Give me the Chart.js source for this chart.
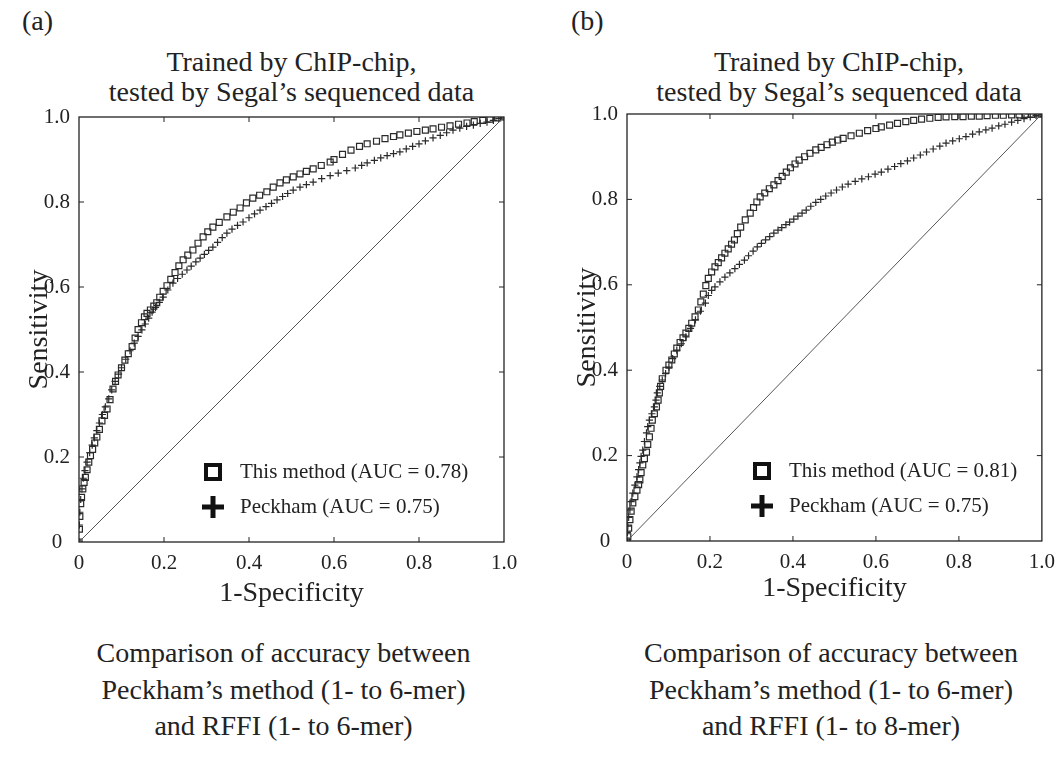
<!DOCTYPE html>
<html>
<head>
<meta charset="utf-8">
<script src="https://cdn.jsdelivr.net/npm/chart.js@4.4.1/dist/chart.umd.min.js"></script>
<style>
	body {margin: 0; background: #fff;}
	#page {position: relative; width: 1064px; height: 758px; overflow: hidden; font-family: "Liberation Serif", "Times New Roman", serif; color: #222;}
	.txt {position: absolute; text-align: center; white-space: nowrap;}
	.tag {position: absolute; font-size: 28px;}
	.head {font-size: 28px; line-height: 30px;}
	.foot {font-size: 28px; line-height: 36.5px;}
	canvas {position: absolute; top: 0;}
</style>
</head>
<body>
<div id="page">
	<div class="tag" style="left:22px; top:5px;">(a)</div>
	<div class="tag" style="left:571px; top:5px;">(b)</div>

	<div class="txt head" style="left:79px; width:425px; top:47px;">Trained by ChIP-chip,<br>tested by Segal’s sequenced data</div>
	<div class="txt head" style="left:627px; width:424px; top:47px;">Trained by ChIP-chip,<br>tested by Segal’s sequenced data</div>

	<div class="txt foot" style="left:71px; width:425px; top:635px;">Comparison of accuracy between<br>Peckham’s method (1- to 6-mer)<br>and RFFI (1- to 6-mer)</div>
	<div class="txt foot" style="left:619px; width:424px; top:635px;">Comparison of accuracy between<br>Peckham’s method (1- to 6-mer)<br>and RFFI (1- to 8-mer)</div>

	<canvas id="chart-a" width="532" height="640" style="left:0px;"></canvas>
	<canvas id="chart-b" width="516" height="640" style="left:548px;"></canvas>
</div>

<script>
// axis ticks, shared by both panels
var tickValues = [0, 0.2, 0.4, 0.6, 0.8, 1.0];
var tickLabels = ['0', '0.2', '0.4', '0.6', '0.8', '1.0'];
var diagonal = [0, 1];

// (a) this method, AUC 0.78
var aThisFpr = [0, 0.001, 0.002, 0.004, 0.006, 0.009, 0.012, 0.015, 0.019, 0.023, 0.027, 0.032, 0.037, 0.042, 0.048, 0.054, 0.06, 0.066, 0.073, 0.08, 0.086, 0.092, 0.1, 0.108, 0.116, 0.125, 0.132, 0.139, 0.147, 0.154, 0.16, 0.168, 0.176, 0.183, 0.19, 0.198, 0.207, 0.216, 0.226, 0.235, 0.245, 0.256, 0.268, 0.28, 0.292, 0.303, 0.315, 0.33, 0.348, 0.363, 0.379, 0.394, 0.409, 0.425, 0.442, 0.457, 0.473, 0.488, 0.504, 0.52, 0.535, 0.551, 0.57, 0.591, 0.6, 0.62, 0.64, 0.66, 0.678, 0.7, 0.72, 0.74, 0.755, 0.775, 0.795, 0.815, 0.833, 0.853, 0.873, 0.893, 0.913, 0.93, 0.95, 0.967, 0.985, 1.0];
var aThisTpr = [0, 0.03, 0.06, 0.09, 0.105, 0.125, 0.14, 0.152, 0.17, 0.188, 0.203, 0.218, 0.233, 0.247, 0.265, 0.285, 0.298, 0.313, 0.335, 0.36, 0.378, 0.393, 0.41, 0.428, 0.443, 0.46, 0.48, 0.5, 0.516, 0.53, 0.538, 0.546, 0.555, 0.563, 0.576, 0.59, 0.603, 0.618, 0.634, 0.65, 0.664, 0.675, 0.687, 0.703, 0.718, 0.73, 0.741, 0.752, 0.765, 0.776, 0.786, 0.798, 0.809, 0.816, 0.824, 0.835, 0.845, 0.852, 0.859, 0.866, 0.872, 0.878, 0.886, 0.894, 0.9, 0.912, 0.922, 0.931, 0.937, 0.943, 0.949, 0.954, 0.958, 0.962, 0.966, 0.969, 0.972, 0.976, 0.979, 0.983, 0.986, 0.989, 0.992, 0.995, 0.998, 1.0];

// (a) Peckham, AUC 0.75
var aPeckFpr = [0, 0.001, 0.002, 0.004, 0.007, 0.01, 0.014, 0.019, 0.025, 0.031, 0.036, 0.042, 0.048, 0.055, 0.062, 0.07, 0.077, 0.085, 0.093, 0.1, 0.11, 0.12, 0.13, 0.139, 0.148, 0.156, 0.164, 0.172, 0.18, 0.189, 0.198, 0.209, 0.221, 0.232, 0.243, 0.254, 0.264, 0.275, 0.285, 0.295, 0.305, 0.315, 0.326, 0.337, 0.348, 0.36, 0.373, 0.386, 0.4, 0.413, 0.426, 0.44, 0.453, 0.466, 0.479, 0.491, 0.504, 0.52, 0.535, 0.551, 0.571, 0.591, 0.61, 0.63, 0.65, 0.665, 0.678, 0.695, 0.71, 0.725, 0.74, 0.755, 0.77, 0.785, 0.8, 0.815, 0.833, 0.85, 0.865, 0.88, 0.896, 0.912, 0.928, 0.944, 0.96, 0.975, 0.988, 1.0];
var aPeckTpr = [0, 0.04, 0.07, 0.1, 0.125, 0.15, 0.168, 0.188, 0.21, 0.228, 0.245, 0.262, 0.28, 0.3, 0.318, 0.337, 0.358, 0.378, 0.395, 0.41, 0.43, 0.45, 0.468, 0.484, 0.499, 0.513, 0.527, 0.541, 0.552, 0.564, 0.576, 0.593, 0.609, 0.62, 0.63, 0.64, 0.649, 0.659, 0.668, 0.677, 0.686, 0.694, 0.705, 0.716, 0.727, 0.736, 0.745, 0.753, 0.763, 0.772, 0.781, 0.789, 0.797, 0.805, 0.813, 0.82, 0.828, 0.835, 0.841, 0.847, 0.855, 0.862, 0.868, 0.874, 0.88, 0.886, 0.892, 0.898, 0.904, 0.909, 0.914, 0.918, 0.925, 0.931, 0.937, 0.944, 0.951, 0.957, 0.963, 0.969, 0.974, 0.978, 0.981, 0.985, 0.988, 0.992, 0.996, 1.0];

// (b) this method, AUC 0.81
var bThisFpr = [0, 0.002, 0.004, 0.007, 0.01, 0.014, 0.019, 0.024, 0.028, 0.031, 0.034, 0.038, 0.042, 0.047, 0.05, 0.054, 0.058, 0.061, 0.066, 0.071, 0.075, 0.078, 0.081, 0.085, 0.094, 0.101, 0.108, 0.114, 0.12, 0.128, 0.135, 0.142, 0.149, 0.156, 0.164, 0.172, 0.178, 0.184, 0.19, 0.196, 0.204, 0.212, 0.22, 0.228, 0.236, 0.244, 0.252, 0.259, 0.266, 0.274, 0.285, 0.297, 0.305, 0.313, 0.321, 0.332, 0.343, 0.354, 0.364, 0.374, 0.384, 0.394, 0.405, 0.415, 0.428, 0.441, 0.455, 0.468, 0.482, 0.495, 0.508, 0.521, 0.54, 0.56, 0.58, 0.6, 0.613, 0.633, 0.652, 0.672, 0.691, 0.71, 0.73, 0.75, 0.769, 0.79, 0.81, 0.83, 0.849, 0.868, 0.888, 0.907, 0.927, 0.945, 0.96, 0.975, 0.99, 1.0];
var bThisTpr = [0, 0.01, 0.03, 0.05, 0.07, 0.089, 0.104, 0.119, 0.132, 0.143, 0.16, 0.178, 0.193, 0.208, 0.226, 0.244, 0.264, 0.283, 0.298, 0.314, 0.33, 0.347, 0.362, 0.38, 0.4, 0.412, 0.424, 0.438, 0.452, 0.465, 0.476, 0.487, 0.498, 0.51, 0.525, 0.541, 0.56, 0.578, 0.598, 0.615, 0.63, 0.642, 0.652, 0.663, 0.674, 0.684, 0.695, 0.705, 0.72, 0.735, 0.752, 0.768, 0.781, 0.794, 0.806, 0.815, 0.825, 0.834, 0.844, 0.854, 0.864, 0.874, 0.883, 0.892, 0.9, 0.908, 0.916, 0.922, 0.928, 0.934, 0.939, 0.943, 0.949, 0.955, 0.961, 0.966, 0.97, 0.974, 0.978, 0.982, 0.985, 0.988, 0.99, 0.992, 0.993, 0.994, 0.994, 0.995, 0.995, 0.996, 0.997, 0.997, 0.998, 0.998, 0.999, 0.999, 1.0, 1.0];

// (b) Peckham, AUC 0.75
var bPeckFpr = [0, 0.001, 0.002, 0.004, 0.007, 0.01, 0.014, 0.019, 0.024, 0.028, 0.031, 0.034, 0.038, 0.042, 0.047, 0.05, 0.054, 0.06, 0.066, 0.07, 0.073, 0.079, 0.085, 0.093, 0.101, 0.11, 0.12, 0.131, 0.142, 0.153, 0.165, 0.177, 0.189, 0.196, 0.204, 0.212, 0.224, 0.236, 0.248, 0.26, 0.271, 0.283, 0.293, 0.304, 0.314, 0.324, 0.334, 0.344, 0.354, 0.364, 0.373, 0.383, 0.392, 0.402, 0.412, 0.422, 0.432, 0.443, 0.455, 0.467, 0.479, 0.492, 0.505, 0.519, 0.533, 0.55, 0.566, 0.582, 0.598, 0.613, 0.629, 0.645, 0.66, 0.676, 0.691, 0.707, 0.722, 0.738, 0.754, 0.769, 0.785, 0.801, 0.817, 0.833, 0.849, 0.865, 0.88, 0.896, 0.911, 0.927, 0.942, 0.957, 0.972, 0.986, 1.0];
var bPeckTpr = [0, 0.02, 0.035, 0.055, 0.073, 0.092, 0.112, 0.131, 0.15, 0.167, 0.183, 0.198, 0.213, 0.233, 0.253, 0.268, 0.283, 0.298, 0.314, 0.33, 0.347, 0.362, 0.377, 0.392, 0.407, 0.427, 0.447, 0.462, 0.478, 0.498, 0.518, 0.538, 0.557, 0.575, 0.587, 0.595, 0.607, 0.618, 0.628, 0.638, 0.648, 0.658, 0.668, 0.679, 0.689, 0.697, 0.705, 0.713, 0.721, 0.728, 0.734, 0.741, 0.747, 0.754, 0.761, 0.768, 0.775, 0.784, 0.793, 0.8, 0.808, 0.815, 0.822, 0.829, 0.836, 0.842, 0.848, 0.853, 0.859, 0.864, 0.871, 0.877, 0.884, 0.89, 0.897, 0.904, 0.911, 0.918, 0.925, 0.932, 0.937, 0.942, 0.947, 0.953, 0.958, 0.963, 0.967, 0.972, 0.976, 0.981, 0.985, 0.989, 0.993, 0.997, 1.0];

var aLegend = ['This method (AUC = 0.78)', 'Peckham (AUC = 0.75)'];
var bLegend = ['This method (AUC = 0.81)', 'Peckham (AUC = 0.75)'];

var serif = '"Liberation Serif", "Times New Roman", serif';
var ink = '#222';

function toPoints(xs, ys)
{
	return xs.map(function (x, i) {return {x: x, y: ys[i]}});
}

// frame, inward ticks on all four sides, and the in-plot legend
var frameTicks =
{
	id: 'frameTicks',
	afterDatasetsDraw: function (chart, args, opts)
	{
		var ctx = chart.ctx;
		var area = chart.chartArea;
		var sx = chart.scales.x;
		var sy = chart.scales.y;
		var len = 5;

		ctx.save();
		ctx.strokeStyle = ink;
		ctx.lineWidth = 1.3;
		ctx.strokeRect(area.left, area.top, area.right - area.left, area.bottom - area.top);

		ctx.lineWidth = 1;
		ctx.beginPath();
		tickValues.forEach(function (v)
		{
			if (v <= 0 || v >= 1) {return}
			var px = sx.getPixelForValue(v);
			var py = sy.getPixelForValue(v);
			ctx.moveTo(px, area.bottom); ctx.lineTo(px, area.bottom - len);
			ctx.moveTo(px, area.top); ctx.lineTo(px, area.top + len);
			ctx.moveTo(area.left, py); ctx.lineTo(area.left + len, py);
			ctx.moveTo(area.right, py); ctx.lineTo(area.right - len, py);
		});
		ctx.stroke();

		// legend
		var lx = area.left + opts.offsetX;
		var rows = [area.bottom - opts.rowA, area.bottom - opts.rowB];

		ctx.strokeStyle = '#111';
		ctx.lineWidth = 4;
		ctx.strokeRect(lx - 7, rows[0] - 7, 14, 14);

		ctx.fillStyle = '#111';
		ctx.fillRect(lx - 11, rows[1] - 2.5, 22, 5);
		ctx.fillRect(lx - 2.5, rows[1] - 11, 5, 22);

		ctx.fillStyle = ink;
		ctx.font = '21px ' + serif;
		ctx.textBaseline = 'middle';
		ctx.textAlign = 'left';
		ctx.fillText(opts.labels[0], lx + opts.textGap, rows[0]);
		ctx.fillText(opts.labels[1], lx + opts.textGap, rows[1]);
		ctx.restore();
	}
};

function makePanel(canvasId, thisPts, peckPts, legendLabels, box)
{
	var axisFont = {family: serif, size: 21};
	var titleFont = {family: serif, size: 28};

	return new Chart(document.getElementById(canvasId),
	{
		type: 'scatter',
		data:
		{
			datasets:
			[
				{
					label: 'diagonal',
					data: toPoints(diagonal, diagonal),
					showLine: true,
					borderColor: '#555',
					borderWidth: 1,
					pointRadius: 0
				},
				{
					label: legendLabels[1],
					data: peckPts,
					pointStyle: 'cross',
					pointRadius: 3.6,
					borderColor: '#2a2a2a',
					borderWidth: 1.2,
					backgroundColor: '#2a2a2a'
				},
				{
					label: legendLabels[0],
					data: thisPts,
					pointStyle: 'rect',
					pointRadius: 4.2,
					borderColor: '#2a2a2a',
					borderWidth: 1.2,
					backgroundColor: 'rgba(255,255,255,0)'
				}
			]
		},
		options:
		{
			responsive: false,
			animation: false,
			events: [],
			layout: {padding: {top: box.top, right: box.right, bottom: 0, left: 0}},
			plugins:
			{
				legend: {display: false},
				tooltip: {enabled: false},
				frameTicks: {labels: legendLabels, offsetX: box.legendX, rowA: 70, rowB: 35, textGap: 27}
			},
			scales:
			{
				x:
				{
					type: 'linear',
					min: 0,
					max: 1,
					afterBuildTicks: function (scale) {scale.ticks = tickValues.map(function (v) {return {value: v}})},
					afterFit: function (scale) {scale.height = box.xHeight},
					grid: {display: false, drawTicks: false},
					border: {display: false},
					ticks: {font: axisFont, color: ink, padding: 9, maxRotation: 0, callback: function (v) {return tickLabels[tickValues.indexOf(v)]}},
					title: {display: true, text: '1-Specificity', font: titleFont, color: ink, padding: {top: 0, bottom: box.xTitlePad}}
				},
				y:
				{
					type: 'linear',
					min: 0,
					max: 1,
					afterBuildTicks: function (scale) {scale.ticks = tickValues.map(function (v) {return {value: v}})},
					afterFit: function (scale) {scale.width = 79},
					grid: {display: false, drawTicks: false},
					border: {display: false},
					ticks: {font: axisFont, color: ink, padding: 9, crossAlign: 'center', callback: function (v) {return tickLabels[tickValues.indexOf(v)]}},
					title: {display: true, text: 'Sensitivity', font: titleFont, color: ink, padding: {top: 23, bottom: 0}}
				}
			}
		},
		plugins: [frameTicks]
	});
}

makePanel('chart-a', toPoints(aThisFpr, aThisTpr), toPoints(aPeckFpr, aPeckTpr), aLegend,
	{top: 117, right: 28, xHeight: 98, xTitlePad: 30, legendX: 134});

makePanel('chart-b', toPoints(bThisFpr, bThisTpr), toPoints(bPeckFpr, bPeckTpr), bLegend,
	{top: 114, right: 13, xHeight: 99, xTitlePad: 35, legendX: 135});
</script>
</body>
</html>
